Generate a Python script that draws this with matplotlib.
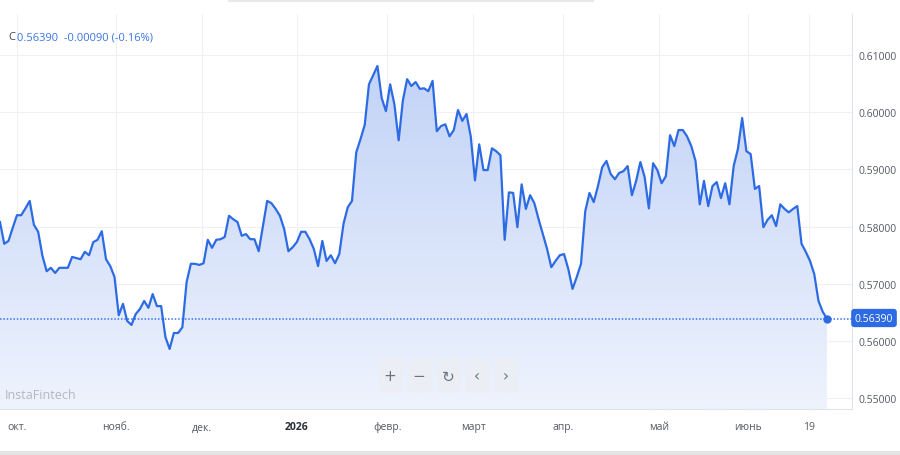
import numpy as np
import matplotlib
matplotlib.use('Agg')
import matplotlib.pyplot as plt
from matplotlib.patches import FancyBboxPatch, Rectangle

# ---- data (daily closes, trading-day index) ----
values = [
    0.5808, 0.5770, 0.5775, 0.5798, 0.5820, 0.5820, 0.5832, 0.5845, 0.5803, 0.5791,
    0.5749, 0.5722, 0.5728, 0.5719, 0.5728, 0.5728, 0.5728, 0.5747, 0.5745, 0.5743,
    0.5756, 0.5750, 0.5773, 0.5777, 0.5792, 0.5743, 0.5731, 0.5712, 0.5645, 0.5665,
    0.5635, 0.5628, 0.5647, 0.5656, 0.5670, 0.5658, 0.5682, 0.5661, 0.5661, 0.5607,
    0.5586, 0.5614, 0.5614, 0.5624, 0.5703, 0.5735, 0.5735, 0.5733, 0.5736, 0.5777,
    0.5763, 0.5777, 0.5778, 0.5782, 0.5819, 0.5813, 0.5808, 0.5784, 0.5787, 0.5778,
    0.5778, 0.5757, 0.5801, 0.5845, 0.5841, 0.5831, 0.5819, 0.5796, 0.5757, 0.5764,
    0.5773, 0.5791, 0.5791, 0.5778, 0.5761, 0.5731, 0.5775, 0.5740, 0.5750, 0.5736,
    0.5752, 0.5805, 0.5834, 0.5845, 0.5930, 0.5953, 0.5978, 0.6049, 0.6065, 0.6081,
    0.6025, 0.6002, 0.6049, 0.6014, 0.5951, 0.6021, 0.6058, 0.6046, 0.6053, 0.6041,
    0.6042, 0.6037, 0.6055, 0.5967, 0.5976, 0.5979, 0.5958, 0.5969, 0.6004, 0.5985,
    0.5997, 0.5958, 0.5881, 0.5944, 0.5899, 0.5899, 0.5937, 0.5932, 0.5925, 0.5777,
    0.5860, 0.5859, 0.5799, 0.5874, 0.5831, 0.5855, 0.5841, 0.5813, 0.5787, 0.5761,
    0.5729, 0.5740, 0.5750, 0.5752, 0.5726, 0.5691, 0.5712, 0.5735, 0.5827, 0.5859,
    0.5843, 0.5871, 0.5904, 0.5915, 0.5892, 0.5883, 0.5894, 0.5897, 0.5906, 0.5855,
    0.5880, 0.5913, 0.5887, 0.5832, 0.5911, 0.5899, 0.5876, 0.5888, 0.5960, 0.5941,
    0.5969, 0.5969, 0.5958, 0.5941, 0.5915, 0.5839, 0.5880, 0.5836, 0.5871, 0.5878,
    0.5850, 0.5876, 0.5839, 0.5906, 0.5936, 0.5990, 0.5932, 0.5927, 0.5866, 0.5871,
    0.5799, 0.5812, 0.5820, 0.5801, 0.5839, 0.5831, 0.5825, 0.5831, 0.5836, 0.5770,
    0.5756, 0.5740, 0.5717, 0.5670, 0.5651, 0.5639,
]
tick_pos = [4, 27.4, 47.6, 70, 91.3, 111.6, 132.8, 155.4, 176.4, 190.8]
tick_labels = ['окт.', 'нояб.', 'дек.', '2026', 'февр.', 'март', 'апр.', 'май', 'июнь', '19']
y_ticks = [0.55, 0.56, 0.57, 0.58, 0.59, 0.60, 0.61]
last_price = 0.56390
change = -0.00090
change_pct = -0.16

plt.rcParams['font.family'] = ['Open Sans', 'DejaVu Sans']

W, H = 900, 456
BLUE = '#2d6be4'
fig = plt.figure(figsize=(W / 100, H / 100), dpi=100)
fig.patch.set_facecolor('white')
ax = fig.add_axes([0, 1 - 410 / H, 852 / W, (410 - 15) / H])

idx = np.arange(len(values))
ymin, ymax = 0.5481, 0.6172
xmax = 200.9

# gradient fill under the line
grad = np.linspace(0, 1, 256).reshape(-1, 1, 1)
c_bot = np.array([238, 243, 253]) / 255
c_top = np.array([188, 206, 246]) / 255
img = c_bot + (c_top - c_bot) * grad
im = ax.imshow(img, extent=[0, xmax, ymin, ymax], origin='lower', aspect='auto', zorder=1)
poly = ax.fill_between(idx, values, ymin, facecolor='none', edgecolor='none')
im.set_clip_path(poly.get_paths()[0], transform=ax.transData)

ax.plot(idx, values, color=BLUE, lw=1.6, zorder=3, solid_joinstyle='round')
ax.axhline(last_price, color='#3b74e8', ls=(0, (1, 1.2)), lw=1.1, zorder=2)
ax.plot(idx[-1], values[-1], 'o', ms=5, color=BLUE, zorder=4)

ax.set_xlim(0, xmax)
ax.set_ylim(ymin, ymax)

ax.set_xticks(tick_pos)
ax.set_xticklabels(tick_labels)
ax.set_yticks(y_ticks)
ax.set_yticklabels([f'{v:.5f}' for v in y_ticks])
ax.yaxis.tick_right()
ax.tick_params(axis='x', length=0, pad=9, labelsize=7.5, colors='#555a63')
ax.tick_params(axis='y', length=0, pad=5, labelsize=7.5, colors='#555a63')
for lab in ax.get_xticklabels():
    if lab.get_text() == '2026':
        lab.set_fontweight('bold')
        lab.set_color('#2a2e39')

ax.grid(True, color='#eef0f5', lw=0.8, zorder=0)
ax.set_axisbelow(True)
for s in ['top', 'left']:
    ax.spines[s].set_visible(False)
for s in ['right', 'bottom']:
    ax.spines[s].set_color('#dfe3ea')
    ax.spines[s].set_linewidth(0.8)

# last price label
fig.text(874 / W, 1 - 319 / H, f'{last_price:.5f}', ha='center', va='center', color='white',
         fontsize=7.5, bbox=dict(boxstyle='round,pad=0.35,rounding_size=0.3', fc=BLUE, ec='none'))

# header
fig.text(8 / W, 1 - 38 / H, 'C', color='#444', fontsize=8, va='center')
fig.text(17 / W, 1 - 38 / H, f'{last_price:.5f}  {change:.5f} ({change_pct:.2f}%)',
         color='#3b74e8', fontsize=8, va='center')

# watermark
fig.text(5 / W, 1 - 396 / H, 'InstaFintech', color='#b3b7bf', fontsize=9, va='center')

# navigation buttons
syms = ['+', '−', '↻', '‹', '›']
for i, s in enumerate(syms):
    x0 = 379 + 29 * i
    fig.patches.append(FancyBboxPatch((x0 / W, 1 - 394 / H), 24 / W, 35 / H,
                                      boxstyle='round,pad=0,rounding_size=0.008',
                                      transform=fig.transFigure, fc='#eceff4', ec='none', alpha=0.85, zorder=5))
    fig.text((x0 + 11) / W, 1 - 377 / H, s, ha='center', va='center', color='#6b7280',
             fontsize=11, zorder=6, family=['DejaVu Sans'])

# frame strips (screenshot edges)
fig.patches.append(Rectangle((0, 0), 1, 4 / H, transform=fig.transFigure, fc='#e4e4e4', ec='none'))
fig.patches.append(Rectangle((228 / W, 1 - 3 / H), 366 / W, 3 / H, transform=fig.transFigure,
                             fc='#e8e8e8', ec='none'))

fig.savefig('out.png', dpi=100)
